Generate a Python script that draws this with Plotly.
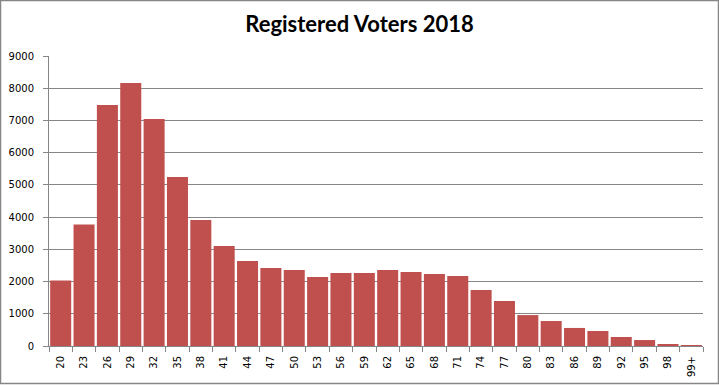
import plotly.graph_objects as go

categories = ["20", "23", "26", "29", "32", "35", "38", "41", "44", "47", "50", "53", "56", "59",
              "62", "65", "68", "71", "74", "77", "80", "83", "86", "89", "92", "95", "98", "99+"]
voters = [2030, 3770, 7480, 8160, 7045, 5245, 3910, 3100, 2640, 2420, 2360, 2140, 2265, 2265,
          2360, 2295, 2235, 2170, 1740, 1395, 960, 775, 560, 465, 280, 185, 62, 30]
y_ticks = [0, 1000, 2000, 3000, 4000, 5000, 6000, 7000, 8000, 9000]

W, H = 719, 385
ml, mr, mt, mb = 49, 16, 56, 39
pw, ph = W - ml - mr, H - mt - mb

fig = go.Figure(go.Bar(x=categories, y=voters, marker=dict(color="#C0504D", line=dict(width=0)),
                       hoverinfo="x+y"))

grey = "#868686"
tick_font = dict(family="DejaVu Sans", size=10, color="black")
fig.update_layout(
    width=W, height=H,
    margin=dict(l=ml, r=mr, t=mt, b=mb, autoexpand=False),
    paper_bgcolor="white", plot_bgcolor="white",
    bargap=0.1,
    showlegend=False,
    title=dict(text="<b>Registered Voters 2018</b>", x=0.5, xanchor="center", y=1 - 24 / H, yanchor="middle",
               font=dict(family="Lato, Liberation Sans, sans-serif", size=22, color="black")),
    font=dict(family="DejaVu Sans", size=10, color="black"),
    xaxis=dict(type="category", tickangle=-90, ticks="outside", tickson="boundaries", ticklen=5,
               tickcolor=grey, showline=True, linecolor=grey, linewidth=1, showgrid=False,
               tickfont=tick_font, automargin=False, ticklabelstandoff=5),
    yaxis=dict(range=[0, 9000], tickvals=y_ticks, ticks="outside", ticklen=5, tickcolor=grey,
               showline=True, linecolor=grey, linewidth=1, showgrid=True, gridcolor=grey, gridwidth=1,
               zeroline=False, tickfont=tick_font, ticklabelstandoff=7, automargin=False),
    shapes=[dict(type="rect", xref="paper", yref="paper",
                 x0=(-ml + 0.5) / pw, x1=(W - ml - 0.5) / pw,
                 y0=(-mb + 1.5) / ph, y1=(H - mb - 0.5) / ph,
                 line=dict(color=grey, width=1.5), fillcolor="rgba(0,0,0,0)", layer="above")],
)

fig.write_html("out.html", config={"displayModeBar": False},
               post_script="document.body.style.margin='0';document.body.style.overflow='hidden';")
